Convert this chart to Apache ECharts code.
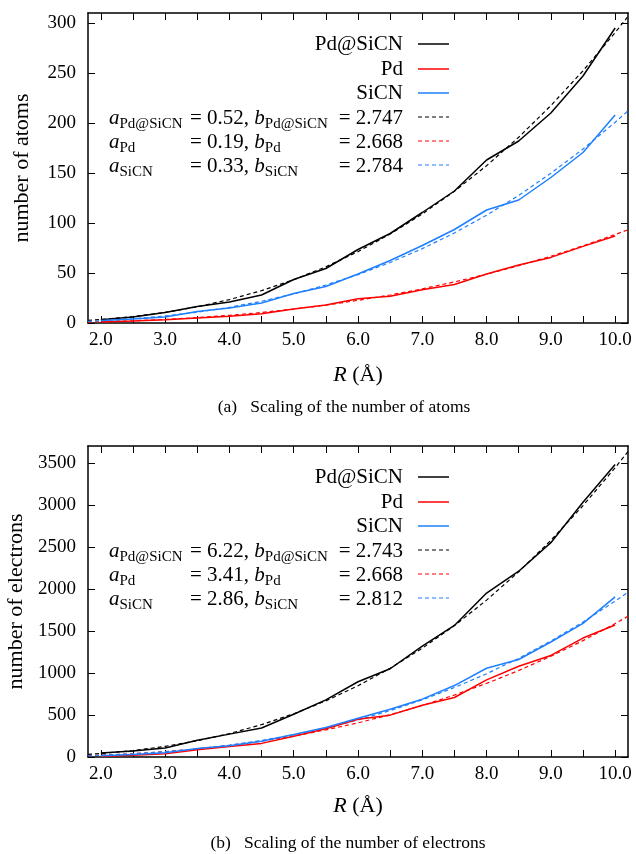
<!DOCTYPE html>
<html><head><meta charset="utf-8">
<script src="https://cdn.jsdelivr.net/npm/echarts@6/dist/echarts.min.js"></script>
<style>html,body{margin:0;padding:0;background:#fff}#c{width:636px;height:854px}</style>
</head><body><div id="c"></div>
<script>
// ---- data ----
const R = [2.0,2.5,3.0,3.5,4.0,4.5,5.0,5.5,6.0,6.5,7.0,7.5,8.0,8.5,9.0,9.5,10.0];
const atomsPdSiCN = [3.3,6,10.5,16.5,21,28,43.5,54.5,73.5,89.5,110.5,132,163,182,210,247,295];
const atomsPd     = [1,2,3.3,5,6.8,9.3,14,18,24.3,26.8,33.3,38.5,49,58,65.6,76.6,87];
const atomsSiCN   = [2.5,4,6,11.5,15,20,29.5,36.5,49,62.5,77.5,93.5,113,123,145.5,170.5,208];
const elecPdSiCN  = [48,70,108,200,272,345,508,680,895,1050,1320,1565,1950,2210,2550,3030,3480];
const elecPd      = [10,22,40,85,125,162,248,335,450,498,615,708,918,1080,1208,1415,1570];
const elecSiCN    = [15,30,50,100,135,188,268,350,462,568,688,850,1056,1160,1368,1590,1905];

// fitted curves a*R^b as drawn (dashed)
const fitR = [1.8,2.0,2.5,3.0,3.5,4.0,4.5,5.0,5.5,6.0,6.5,7.0,7.5,8.0,8.5,9.0,9.5,10.0,10.2];
const fitAtomsPdSiCN = [2.61,3.49,6.44,10.63,16.24,23.44,32.39,43.26,56.21,71.38,88.94,109.0,131.8,157.3,185.8,217.4,252.2,290.4,306.6];
const fitAtomsPd     = [0.91,1.21,2.19,3.56,5.37,7.67,10.51,13.92,17.95,22.64,28.03,34.15,41.06,48.78,57.34,66.78,77.15,88.46,93.26];
const fitAtomsSiCN   = [1.70,2.27,4.23,7.03,10.79,15.66,21.73,29.14,37.99,48.41,60.49,74.34,90.08,107.8,127.6,149.7,174.0,200.7,212.1];
const fitElecPdSiCN  = [31.2,41.6,76.8,126.6,193.3,278.8,385.1,514.1,667.7,847.7,1055.9,1293.9,1563.5,1866.1,2203.9,2578.1,2990.1,3441.9,3633.9];
const fitElecPd      = [16.4,21.7,39.3,63.9,96.4,137.7,188.6,249.8,322.1,406.3,503.0,613.0,736.9,875.4,1029.1,1198.6,1384.6,1587.6,1673.8];
const fitElecSiCN    = [14.9,20.1,37.6,62.8,96.9,141.0,196.4,264.1,345.4,441.1,552.4,680.4,826.2,990.5,1174.6,1379.4,1605.9,1855.0,1961.2];

const xTickValues = [2.0,2.5,3.0,3.5,4.0,4.5,5.0,5.5,6.0,6.5,7.0,7.5,8.0,8.5,9.0,9.5,10.0];
const xLabelValues = [2,3,4,5,6,7,8,9,10];
const atomsTicks = [0,50,100,150,200,250,300];
const electronsTicks = [0,500,1000,1500,2000,2500,3000,3500];

const fitParamsAtoms = [['Pd@SiCN','0.52','2.747'],['Pd','0.19','2.668'],['SiCN','0.33','2.784']];
const fitParamsElec  = [['Pd@SiCN','6.22','2.743'],['Pd','3.41','2.668'],['SiCN','2.86','2.812']];
const names = ['Pd@SiCN','Pd','SiCN'];
const captions = ['(a)   Scaling of the number of atoms','(b)   Scaling of the number of electrons'];

// ---- styling ----
const FF = '"Liberation Serif", "DejaVu Serif", serif';
const COLORS = ['#000000','#ff0000','#1e7fff'];
const GRIDS = [{left:88,right:8,top:13,height:310},{left:88,right:8,top:446,height:311}];
const YMAX = [310,3700];
const YNAMES = ['number of atoms','number of electrons'];
const YTICKS = [atomsTicks, electronsTicks];
const DASH = [4,3];

const zip = (xs, ys) => xs.map((x,i)=>[x, ys[i]]);

const xAxes = [], yAxes = [], series = [];
GRIDS.forEach((g,p)=>{
  const tick = {show:true, inside:true, length:7, customValues:xTickValues, lineStyle:{color:'#000',width:1}};
  const line = {show:true, onZero:false, lineStyle:{color:'#000',width:1.5}};
  xAxes.push({type:'value', gridIndex:p, min:1.8, max:10.2, position:'bottom',
    axisLine:line, axisTick:tick, splitLine:{show:false},
    axisLabel:{show:true, customValues:xLabelValues, formatter:v=>Number(v).toFixed(1), fontFamily:FF, fontSize:19, color:'#000', margin:8},
    name:'{i|R} (Å)', nameLocation:'middle', nameGap:p===0?41:38,
    nameTextStyle:{fontFamily:FF, fontSize:22, color:'#000', rich:{i:{fontFamily:FF, fontSize:22, fontStyle:'italic', color:'#000'}}}
  });
  xAxes.push({type:'value', gridIndex:p, min:1.8, max:10.2, position:'top',
    axisLine:line, axisTick:tick, splitLine:{show:false}, axisLabel:{show:false}});
  const ytick = {show:true, inside:true, length:7, customValues:YTICKS[p], lineStyle:{color:'#000',width:1}};
  yAxes.push({type:'value', gridIndex:p, min:0, max:YMAX[p], position:'left',
    axisLine:line, axisTick:ytick, splitLine:{show:false},
    axisLabel:{show:true, customValues:YTICKS[p], formatter:v=>String(v), fontFamily:FF, fontSize:19, color:'#000', margin:12},
    name:YNAMES[p], nameLocation:'middle', nameGap:55, nameRotate:90,
    nameTextStyle:{fontFamily:FF, fontSize:22, color:'#000'}
  });
  yAxes.push({type:'value', gridIndex:p, min:0, max:YMAX[p], position:'right',
    axisLine:line, axisTick:ytick, splitLine:{show:false}, axisLabel:{show:false}});
});

const dataSets = [
  {solid:[atomsPdSiCN,atomsPd,atomsSiCN], fit:[fitAtomsPdSiCN,fitAtomsPd,fitAtomsSiCN]},
  {solid:[elecPdSiCN,elecPd,elecSiCN], fit:[fitElecPdSiCN,fitElecPd,fitElecSiCN]}
];
dataSets.forEach((ds,p)=>{
  ds.fit.forEach((ys,k)=>{
    series.push({type:'line', name:'fit '+names[k]+(p?' (electrons)':' (atoms)'), xAxisIndex:2*p, yAxisIndex:2*p,
      data:zip(fitR, ys), showSymbol:false, symbol:'none', silent:true, z:2,
      lineStyle:{color:COLORS[k], width:1.2, type:DASH}});
  });
  ds.solid.forEach((ys,k)=>{
    series.push({type:'line', name:names[k]+(p?' (electrons)':' (atoms)'), xAxisIndex:2*p, yAxisIndex:2*p,
      data:zip(R, ys), showSymbol:false, symbol:'none', silent:true, z:3,
      lineStyle:{color:COLORS[k], width:1.5}});
  });
});

// ---- legend-like annotation block (graphic) ----
const ROWS = [31,56,80,104,128,152];
const TXT_RIGHT = 403, KEY_X1 = 418, KEY_X2 = 449;
const rich = {
  i:{fontFamily:FF, fontSize:21, fontStyle:'italic', lineHeight:21, verticalAlign:'top', fill:'#000'},
  n:{fontFamily:FF, fontSize:21, lineHeight:21, verticalAlign:'top', fill:'#000'},
  s:{fontFamily:FF, fontSize:15, lineHeight:15, verticalAlign:'top', padding:[9,0,0,0], fill:'#000'}
};
const graphic = [];
GRIDS.forEach((g,p)=>{
  const params = p ? fitParamsElec : fitParamsAtoms;
  names.forEach((nm,k)=>{
    const y = g.top + ROWS[k];
    graphic.push({type:'text', x:TXT_RIGHT, y:y, silent:true,
      style:{text:nm, font:'21px '+FF, fill:'#000', align:'right', verticalAlign:'middle'}});
    graphic.push({type:'line', silent:true, shape:{x1:KEY_X1,y1:y,x2:KEY_X2,y2:y},
      style:{stroke:COLORS[k], lineWidth:1.5}});
  });
  params.forEach((pr,k)=>{
    const y = g.top + ROWS[3+k];
    graphic.push({type:'text', x:109, y:y+1.5, silent:true,
      style:{text:'{i|a}{s|'+pr[0]+'}', rich:rich, align:'left', verticalAlign:'middle'}});
    graphic.push({type:'text', x:190, y:y+1.5, silent:true,
      style:{text:'{n|= '+pr[1]+', }{i|b}{s|'+pr[0]+'}', rich:rich, align:'left', verticalAlign:'middle'}});
    graphic.push({type:'text', x:TXT_RIGHT, y:y+1.5, silent:true,
      style:{text:'{n|= '+pr[2]+'}', rich:rich, align:'right', verticalAlign:'middle'}});
    graphic.push({type:'line', silent:true, shape:{x1:KEY_X1,y1:y,x2:KEY_X2,y2:y},
      style:{stroke:COLORS[k], lineWidth:1.2, lineDash:DASH}});
  });
});

const chart = echarts.init(document.getElementById('c'), null, {renderer:'canvas'});
chart.setOption({
  animation:false,
  backgroundColor:'#fff',
  title:[
    {text:captions[0], left:344, top:398, textAlign:'center', textStyle:{fontFamily:FF, fontSize:17.5, fontWeight:'normal', color:'#000'}, padding:0},
    {text:captions[1], left:348, top:834, textAlign:'center', textStyle:{fontFamily:FF, fontSize:17.5, fontWeight:'normal', color:'#000'}, padding:0}
  ],
  grid:GRIDS.map(g=>Object.assign({containLabel:false, outerBoundsMode:'none'}, g)),
  xAxis:xAxes,
  yAxis:yAxes,
  series:series,
  graphic:graphic
});
</script>
</body></html>
